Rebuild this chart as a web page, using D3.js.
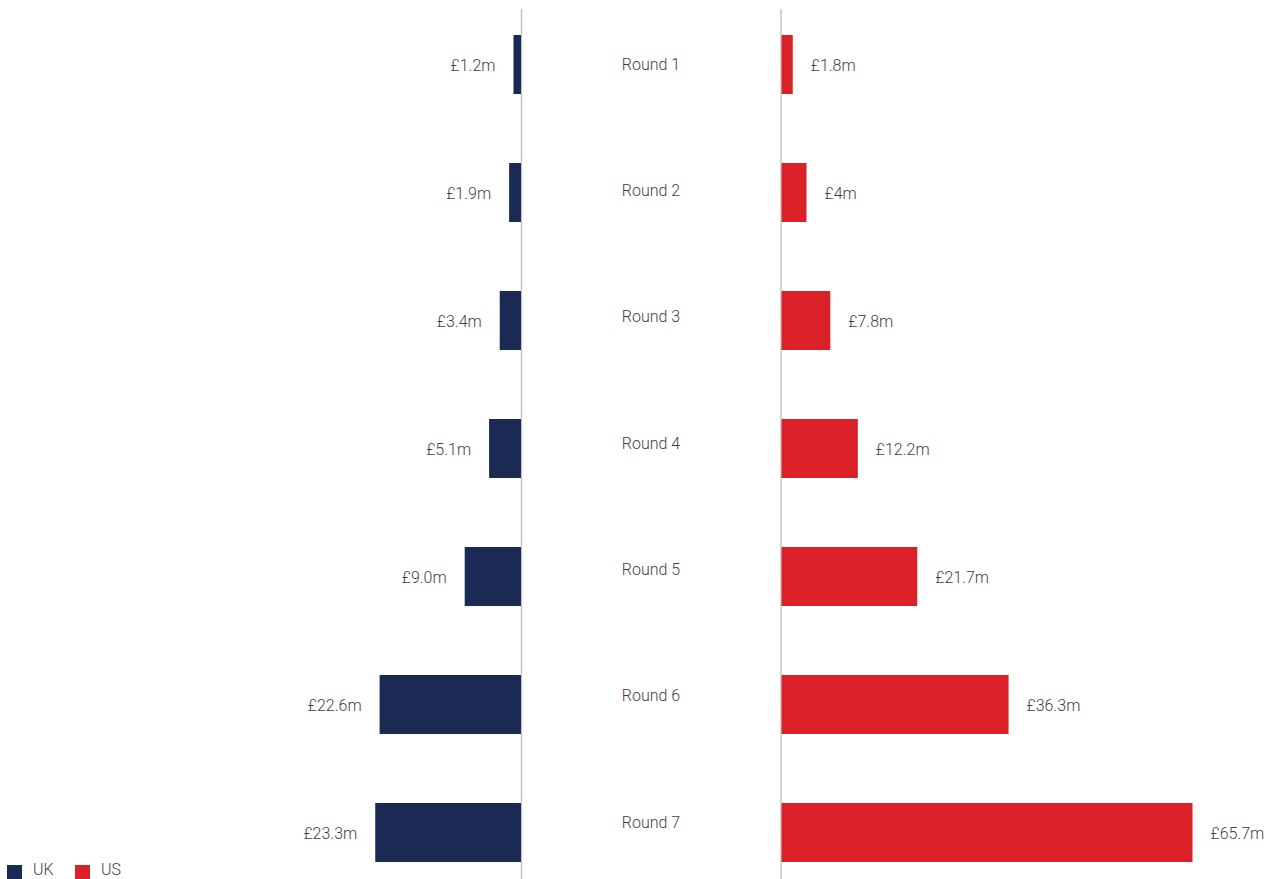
<!DOCTYPE html>
<html>
<head>
<meta charset="utf-8">
<script src="https://cdn.jsdelivr.net/npm/d3@7"></script>
<style>
  html, body { margin: 0; padding: 0; background: #fff; }
  svg { display: block; font-family: Roboto, "Open Sans", sans-serif; font-weight: 300; }
</style>
</head>
<body>
<svg id="chart" width="1275" height="879"></svg>
<script>
const rounds = ["Round 1", "Round 2", "Round 3", "Round 4", "Round 5", "Round 6", "Round 7"];
const ukValues = [1.2, 1.9, 3.4, 5.1, 9.0, 22.6, 23.3];
const usValues = [1.8, 4, 7.8, 12.2, 21.7, 36.3, 65.7];
const ukLabels = ["£1.2m", "£1.9m", "£3.4m", "£5.1m", "£9.0m", "£22.6m", "£23.3m"];
const usLabels = ["£1.8m", "£4m", "£7.8m", "£12.2m", "£21.7m", "£36.3m", "£65.7m"];
const seriesNames = ["UK", "US"];

const colors = { UK: "#1b2955", US: "#db2128" };
const textColor = "#3f3f3f";

const svg = d3.select("#chart");
const ukAxisX = 521.5, usAxisX = 781;

const y = d3.scaleBand().domain(rounds).range([35, 862]).paddingInner(0.539).paddingOuter(0);
const yMid = d3.scalePoint().domain(rounds).range([64, 822]);
const w = d3.scaleLinear().domain([0, 65.7]).range([0, 411]);

// axis lines
[ukAxisX, usAxisX].forEach(x => {
  svg.append("line").attr("x1", x).attr("x2", x).attr("y1", 9).attr("y2", 879)
    .attr("stroke", "#c4c4c4").attr("stroke-width", 1.5);
});

// UK bars
svg.selectAll(".uk").data(ukValues).join("rect")
  .attr("x", d => ukAxisX - 0.5 - w(d))
  .attr("y", (d, i) => y(rounds[i]))
  .attr("width", d => w(d))
  .attr("height", y.bandwidth())
  .attr("fill", colors.UK);

// US bars
svg.selectAll(".us").data(usValues).join("rect")
  .attr("x", usAxisX + 0.5)
  .attr("y", (d, i) => y(rounds[i]))
  .attr("width", d => w(d))
  .attr("height", y.bandwidth())
  .attr("fill", colors.US);

// UK labels
svg.selectAll(".ukl").data(ukValues).join("text")
  .attr("x", d => ukAxisX - 0.5 - w(d) - 18)
  .attr("y", (d, i) => y(rounds[i]) + y.bandwidth() / 2 + 1)
  .attr("text-anchor", "end")
  .attr("dominant-baseline", "central")
  .attr("font-size", 16)
  .attr("fill", textColor)
  .text((d, i) => ukLabels[i]);

// US labels
svg.selectAll(".usl").data(usValues).join("text")
  .attr("x", d => usAxisX + 0.5 + w(d) + 18)
  .attr("y", (d, i) => y(rounds[i]) + y.bandwidth() / 2 + 1)
  .attr("text-anchor", "start")
  .attr("dominant-baseline", "central")
  .attr("font-size", 16)
  .attr("fill", textColor)
  .text((d, i) => usLabels[i]);

// Round labels
svg.selectAll(".rl").data(rounds).join("text")
  .attr("x", 651)
  .attr("y", d => yMid(d))
  .attr("text-anchor", "middle")
  .attr("dominant-baseline", "central")
  .attr("font-size", 16)
  .attr("fill", textColor)
  .text(d => d);

// Legend
const legendX = [7, 75];
seriesNames.forEach((s, i) => {
  const g = svg.append("g").attr("transform", `translate(${legendX[i]},865)`);
  g.append("rect").attr("width", 15).attr("height", 14).attr("fill", colors[s]);
  g.append("text").attr("x", 26).attr("y", 10).attr("font-size", 16)
    .attr("fill", textColor).text(s);
});
</script>
</body>
</html>
